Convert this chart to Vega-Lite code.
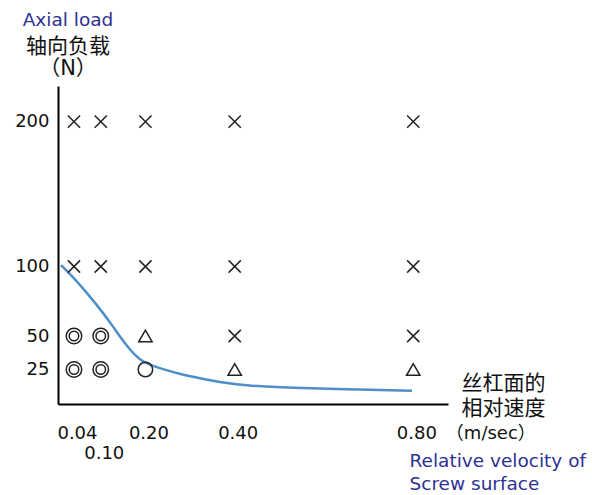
{
  "$schema": "https://vega.github.io/schema/vega-lite/v6.json",
  "autosize": "none",
  "padding": {"left": 58, "top": 86, "right": 144, "bottom": 91},
  "width": 390,
  "height": 318,
  "background": "white",
  "config": {
    "view": {"stroke": null},
    "font": "DejaVu Sans"
  },
  "title": {
    "text": "Axial load",
    "subtitle": ["轴向负载", "（N）"],
    "anchor": "start",
    "frame": "group",
    "align": "center",
    "dx": 10,
    "offset": 7,
    "font": "DejaVu Sans",
    "fontSize": 18.5,
    "fontWeight": "normal",
    "color": "#2e3192",
    "subtitleFont": "DejaVu Sans, Noto Sans CJK SC",
    "subtitleFontSize": 21,
    "subtitleColor": "#111111",
    "subtitleLineHeight": 22,
    "subtitlePadding": 7
  },
  "datasets": {
    "pts": [
      {"v": 0.04, "load": 200, "sym": "x"},
      {"v": 0.10, "load": 200, "sym": "x"},
      {"v": 0.20, "load": 200, "sym": "x"},
      {"v": 0.40, "load": 200, "sym": "x"},
      {"v": 0.80, "load": 200, "sym": "x"},
      {"v": 0.04, "load": 100, "sym": "x"},
      {"v": 0.10, "load": 100, "sym": "x"},
      {"v": 0.20, "load": 100, "sym": "x"},
      {"v": 0.40, "load": 100, "sym": "x"},
      {"v": 0.80, "load": 100, "sym": "x"},
      {"v": 0.04, "load": 50, "sym": "dbl"},
      {"v": 0.10, "load": 50, "sym": "dbl"},
      {"v": 0.20, "load": 50, "sym": "tri"},
      {"v": 0.40, "load": 50, "sym": "x"},
      {"v": 0.80, "load": 50, "sym": "x"},
      {"v": 0.04, "load": 25, "sym": "dbl"},
      {"v": 0.10, "load": 25, "sym": "dbl"},
      {"v": 0.20, "load": 25, "sym": "circ"},
      {"v": 0.40, "load": 25, "sym": "tri"},
      {"v": 0.80, "load": 25, "sym": "tri"}
    ],
    "curve": [
      {"v": 0.0109, "load": 101.0},
      {"v": 0.0422, "load": 91.0},
      {"v": 0.0758, "load": 78.4},
      {"v": 0.1056, "load": 66.5},
      {"v": 0.128, "load": 56.5},
      {"v": 0.1469, "load": 47.8},
      {"v": 0.1654, "load": 39.6},
      {"v": 0.1878, "load": 32.1},
      {"v": 0.2102, "load": 28.4},
      {"v": 0.24, "load": 25.1},
      {"v": 0.2775, "load": 21.7},
      {"v": 0.3223, "load": 18.6},
      {"v": 0.3671, "load": 15.7},
      {"v": 0.4343, "load": 13.0},
      {"v": 0.5306, "load": 11.8},
      {"v": 0.6426, "load": 10.7},
      {"v": 0.7972, "load": 9.6}
    ]
  },
  "encoding": {
    "x": {
      "field": "v",
      "type": "quantitative",
      "scale": {"domain": [0.0042, 0.8778], "nice": false, "zero": false},
      "axis": {
        "orient": "bottom",
        "values": [0.04, 0.1, 0.2, 0.4, 0.8],
        "labelExpr": "datum.value == 0.8 ? '0.80\u2002（m/sec）' : format(datum.value, '.2f')",
        "labelAlign": {"condition": {"test": "datum.value == 0.8", "value": "left"}, "value": "center"},
        "labelOffset": {"condition": {"test": "datum.value == 0.8", "value": -17}, "value": 3},
        "labelPadding": {"condition": {"test": "datum.value == 0.1", "value": 40}, "value": 20},
        "labelFont": "DejaVu Sans, Noto Sans CJK SC",
        "labelFontSize": 18,
        "labelColor": "#111111",
        "labelFlush": false,
        "labelOverlap": false,
        "labelBound": false,
        "ticks": false,
        "tickSize": 0,
        "grid": false,
        "domainColor": "#000000",
        "domainWidth": 2,
        "title": ["丝杠面的", "相对速度"],
        "titleFont": "Noto Sans CJK SC",
        "titleFontSize": 21,
        "titleFontWeight": "normal",
        "titleColor": "#111111",
        "titleAlign": "left",
        "titleBaseline": "middle",
        "titleLineHeight": 25,
        "titleX": 403,
        "titleY": -21
      }
    },
    "y": {
      "field": "load",
      "type": "quantitative",
      "scale": {
        "domain": [0, 25, 50, 100, 200, 224.7],
        "range": [318, 283.5, 250, 180.5, 35.7, 0],
        "nice": false,
        "zero": false
      },
      "axis": {
        "values": [25, 50, 100, 200],
        "labelFont": "DejaVu Sans",
        "labelFontSize": 18,
        "labelColor": "#111111",
        "labelPadding": 9,
        "labelBaseline": "middle",
        "labelOverlap": false,
        "labelFlush": false,
        "ticks": false,
        "tickSize": 0,
        "grid": false,
        "domainColor": "#000000",
        "domainWidth": 2,
        "title": ["Relative velocity of", "Screw surface"],
        "titleFont": "DejaVu Sans",
        "titleFontSize": 18.5,
        "titleFontWeight": "normal",
        "titleColor": "#2e3192",
        "titleAngle": 0,
        "titleAlign": "left",
        "titleBaseline": "middle",
        "titleLineHeight": 23,
        "titleX": 351,
        "titleY": 374
      }
    }
  },
  "layer": [
    {
      "data": {"name": "curve"},
      "mark": {"type": "line", "interpolate": "basis", "color": "#4f8fc8", "strokeWidth": 2.5}
    },
    {
      "data": {"name": "pts"},
      "mark": {"type": "point", "filled": false, "stroke": "#222222", "strokeWidth": 1.5, "opacity": 1},
      "encoding": {
        "shape": {
          "field": "sym",
          "type": "nominal",
          "scale": {"domain": ["x", "tri", "circ", "dbl"], "range": ["M-1,-1L1,1M-1,1L1,-1", "triangle-up", "circle", "circle"]},
          "legend": null
        },
        "size": {
          "field": "sym",
          "type": "nominal",
          "scale": {"domain": ["x", "tri", "circ", "dbl"], "range": [150, 240, 272, 272]},
          "legend": null
        }
      }
    },
    {
      "data": {"name": "pts"},
      "transform": [{"filter": "datum.sym == 'dbl'"}],
      "mark": {"type": "point", "shape": "circle", "size": 90, "filled": false, "stroke": "#222222", "strokeWidth": 1.5, "opacity": 1}
    }
  ]
}
